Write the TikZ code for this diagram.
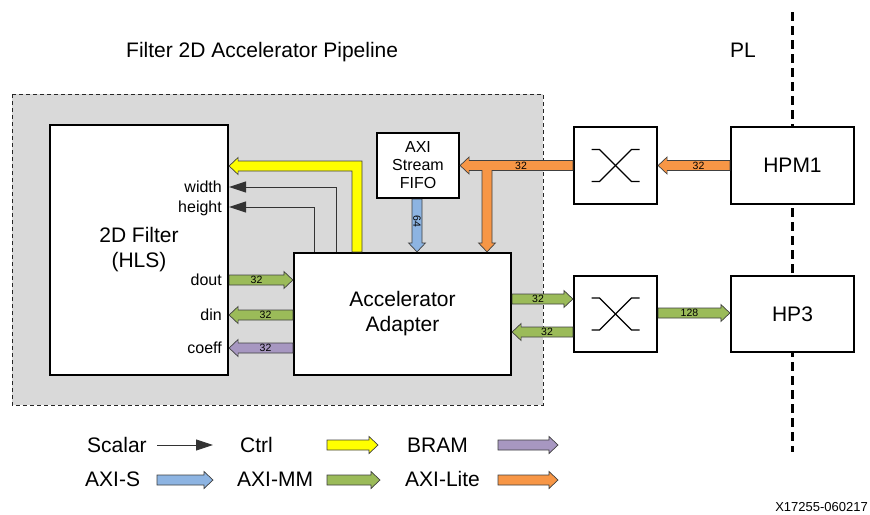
\documentclass[tikz,border=0pt]{standalone}
\usepackage{fontspec}
\setmainfont{Liberation Sans}
\usetikzlibrary{calc,arrows.meta}
\definecolor{bggray}{HTML}{D9D9D9}
\definecolor{mmgreen}{HTML}{9BBB59}
\definecolor{litorange}{HTML}{F79646}
\definecolor{axisblue}{HTML}{8DB4E2}
\definecolor{brampurple}{HTML}{A797C1}
\definecolor{ctrlyellow}{HTML}{FFFF00}
\tikzset{
  blk/.style={draw=black, line width=2.2pt, fill=white, inner sep=0pt, align=center},
  fatline/.style={draw=black!75, line width=0.7pt, line join=miter},
  numlbl/.style={font=\fontsize{10.5}{12}\selectfont, inner sep=0pt},
  scalar/.style={draw=black!80, line width=0.9pt, -{Triangle[length=17pt,width=11pt]}},
  sig/.style={font=\fontsize{16}{18}\selectfont, anchor=base east, inner sep=0pt},
  big/.style={font=\fontsize{21}{25}\selectfont},
  mid/.style={font=\fontsize{16}{18}\selectfont},
  legtext/.style={font=\fontsize{21}{25}\selectfont, anchor=base west, inner sep=0pt},
  swsym/.style={draw=black, line width=1.3pt},
  plline/.style={draw=black, line width=3pt, dash pattern=on 9pt off 5pt},
  regionbox/.style={draw=black!85, fill=bggray, line width=0.8pt, dash pattern=on 4pt off 3pt},
}
\newcommand\fatarrow[5][]{%
  \coordinate (fa-a) at (#3);
  \coordinate (fa-b) at (#4);
  \coordinate (fa-c) at ($(fa-b)!9pt!(fa-a)$);
  \draw[fatline, fill=#2] ($(fa-a)!5pt!90:(fa-b)$) -- ($(fa-c)!5pt!90:(fa-b)$) -- ($(fa-c)!8.5pt!90:(fa-b)$) -- (fa-b) -- ($(fa-c)!8.5pt!-90:(fa-b)$) -- ($(fa-c)!5pt!-90:(fa-b)$) -- ($(fa-a)!5pt!-90:(fa-b)$) -- cycle;
  \node[numlbl,#1] at ($(fa-a)!0.5!(fa-c)$) {#5};
}
\begin{document}
\begin{tikzpicture}[x=1pt, y=-1pt]
\useasboundingbox (0,0) rectangle (870,514);
\fill[white] (0,0) rectangle (870,514);

% region and PL boundary
\path[regionbox] (12,94) rectangle (543,405);
\draw[plline] (792,12) -- (792,452);

% titles
\node[legtext] (title) at (126,57) {Filter 2D Accelerator Pipeline};
\node[legtext] (pl) at (730,57) {PL};

% blocks
\node[blk, big, minimum width=178pt, minimum height=250pt] (filt) at (139,250) {2D Filter\\(HLS)};
\node[blk, mid, minimum width=82pt, minimum height=65pt] (fifo) at (418,165.5) {AXI\\Stream\\FIFO};
\node[blk, big, minimum width=217pt, minimum height=122pt] (adapt) at (402.5,314) {Accelerator\\Adapter};
\node[blk, minimum width=83pt, minimum height=77pt] (sw1) at (615.5,165.5) {};
\node[blk, minimum width=83pt, minimum height=76pt] (sw2) at (615.5,314) {};
\node[blk, big, minimum width=123pt, minimum height=77pt] (hpm1) at (792.5,165.5) {HPM1};
\node[blk, big, minimum width=123pt, minimum height=76pt] (hp3) at (792.5,314) {HP3};

% switch symbols
\foreach \s in {sw1,sw2}{
  \draw[swsym] ($(\s)+(-24,-16)$) -- ++(8,0) -- ++(32,32) -- ++(8,0);
  \draw[swsym] ($(\s)+(-24,16)$) -- ++(8,0) -- ++(32,-32) -- ++(8,0);
}

% signal labels on the filter
\node[sig] (lw) at (222,192.5) {width};
\node[sig] (lh) at (222,212.5) {height};
\node[sig] (ldout) at (222,285.5) {dout};
\node[sig] (ldin) at (222,320.5) {din};
\node[sig] (lcoeff) at (222,353.5) {coeff};

% scalar lines
\draw[scalar] ($(adapt.north)+(-66.5,0)$) |- ($(filt.east)+(0,-63)$);
\draw[scalar] ($(adapt.north)+(-88.5,0)$) |- ($(filt.east)+(0,-43)$);

% ctrl (yellow) L-shaped arrow
\coordinate (yb) at ($(adapt.north)+(-45.5,0)$);
\coordinate (yt) at ($(filt.east)+(0,-84)$);
\draw[fatline, fill=ctrlyellow] let \p1=(yb), \p2=(yt) in
  (\x1-5pt,\y1) -- (\x1-5pt,\y2-5pt) -- (\x2+9pt,\y2-5pt) -- (\x2+9pt,\y2-8.5pt) -- (\x2,\y2)
  -- (\x2+9pt,\y2+8.5pt) -- (\x2+9pt,\y2+5pt) -- (\x1+5pt,\y2+5pt) -- (\x1+5pt,\y1) -- cycle;

% AXI-Lite T-shaped arrow
\coordinate (ob) at ($(adapt.north)+(84.5,0)$);
\draw[fatline, fill=litorange] let \p1=(sw1.west), \p2=(fifo.east), \p3=(ob) in
  (\x1,\y2+5pt) -- (\x2+9pt,\y2+5pt) -- (\x2+9pt,\y2+8.5pt) -- (\x2,\y2) -- (\x2+9pt,\y2-8.5pt)
  -- (\x2+9pt,\y2-5pt) -- (\x3-5pt,\y2-5pt) -- (\x3-5pt,\y3+9pt) -- (\x3-8.5pt,\y3+9pt) -- (\x3,\y3)
  -- (\x3+8.5pt,\y3+9pt) -- (\x3+5pt,\y3+9pt) -- (\x3+5pt,\y2-5pt) -- (\x1,\y2-5pt) -- cycle;
\node[numlbl] (ol) at ($(fifo.east)!0.54!(sw1.west)$) {32};

% straight wide arrows
\fatarrow[rotate=-90]{axisblue}{$(fifo.south)+(-1,0)$}{$(adapt.north)+(14.5,0)$}{64}
\fatarrow{mmgreen}{$(filt.east)+(0,30)$}{$(adapt.west)+(0,-34)$}{32}
\fatarrow{mmgreen}{$(adapt.west)+(0,1)$}{$(filt.east)+(0,65)$}{32}
\fatarrow{brampurple}{$(adapt.west)+(0,34)$}{$(filt.east)+(0,98)$}{32}
\fatarrow{mmgreen}{$(adapt.east)+(0,-15)$}{$(sw2.west)+(0,-15)$}{32}
\fatarrow{mmgreen}{$(sw2.west)+(0,18)$}{$(adapt.east)+(0,18)$}{32}
\fatarrow{mmgreen}{$(sw2.east)+(0,-1)$}{$(hp3.west)+(0,-1)$}{128}
\fatarrow{litorange}{hpm1.west}{sw1.east}{32}

% legend
\node[legtext] (tscalar) at (87,452) {Scalar};
\node[legtext] (tctrl) at (240,452) {Ctrl};
\node[legtext] (tbram) at (407,452) {BRAM};
\node[legtext] (taxis) at (85,486) {AXI-S};
\node[legtext] (taximm) at (237,486) {AXI-MM};
\node[legtext] (taxil) at (405,486) {AXI-Lite};
\coordinate (ls1) at (157,445); \coordinate (ls2) at (213,445);
\draw[scalar] (ls1) -- (ls2);
\coordinate (lc1) at (327,445); \coordinate (lc2) at (378,445);
\fatarrow{ctrlyellow}{lc1}{lc2}{}
\coordinate (lb1) at (498,445); \coordinate (lb2) at (558,445);
\fatarrow{brampurple}{lb1}{lb2}{}
\coordinate (la1) at (157,480); \coordinate (la2) at (213,480);
\fatarrow{axisblue}{la1}{la2}{}
\coordinate (lm1) at (327,480); \coordinate (lm2) at (380,480);
\fatarrow{mmgreen}{lm1}{lm2}{}
\coordinate (ll1) at (498,480); \coordinate (ll2) at (558,480);
\fatarrow{litorange}{ll1}{ll2}{}

% footer
\node[font=\fontsize{13}{15}\selectfont, anchor=base east, inner sep=0pt] (foot) at (868,511) {X17255-060217};
\end{tikzpicture}
\end{document}
